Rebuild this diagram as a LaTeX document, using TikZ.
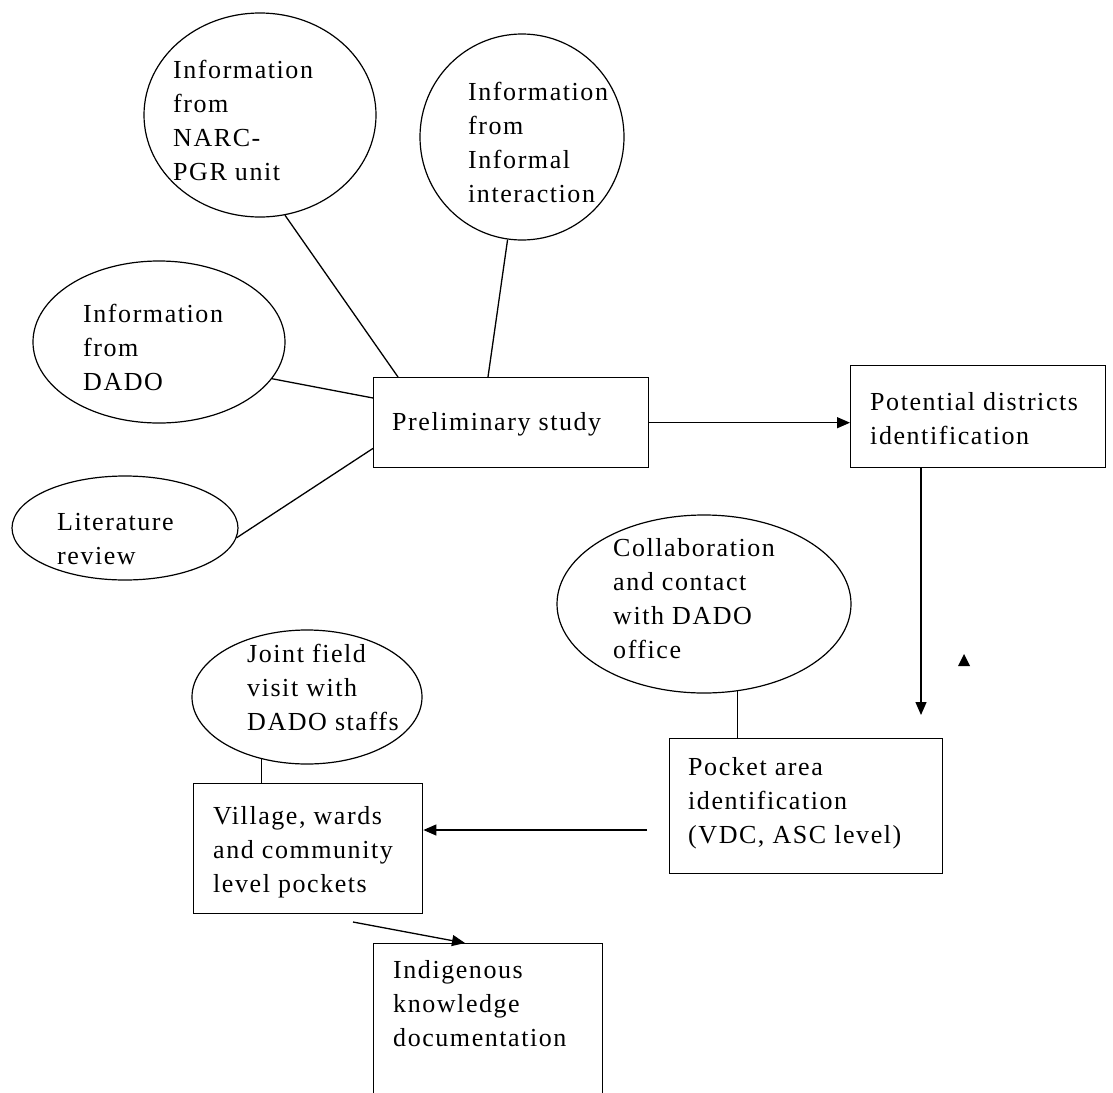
\documentclass[tikz,border=0pt]{standalone}
\usepackage{fontspec}
\setmainfont{Liberation Serif}[LetterSpace=6]
\usetikzlibrary{arrows.meta,shapes.geometric}
\newcommand\mylines[1]{\begin{tabular}[t]{@{}l@{}}#1\end{tabular}}
\begin{document}
\begin{tikzpicture}[x=1pt,y=-1pt,
  font=\fontsize{26}{34}\selectfont,
  ell/.style={draw, ellipse, inner sep=0pt, line width=1.2pt},
  box/.style={draw, rectangle, inner sep=0pt, line width=1.4pt, anchor=north west},
  txt/.style={anchor=base west, inner sep=0pt},
  link/.style={line width=1.3pt},
  arr/.style={link, -{Triangle[length=13pt,width=11pt]}}]
\useasboundingbox (0,0) rectangle (1113,1092);
\clip (0,0) rectangle (1113,1092);
\fill[white] (0,0) rectangle (1113,1092);

% ellipses
\node[ell, minimum width=232pt, minimum height=204pt] (narc) at (260,115) {};
\node[ell, minimum width=204pt, minimum height=206pt] (inf) at (522,137) {};
\node[ell, minimum width=252pt, minimum height=162pt] (dado) at (159,342) {};
\node[ell, minimum width=226pt, minimum height=104pt] (lit) at (125,528) {};
\node[ell, minimum width=294pt, minimum height=178pt] (collab) at (704,604) {};
\node[ell, minimum width=230pt, minimum height=134pt] (joint) at (307,697) {};

% boxes
\node[box, minimum width=275pt, minimum height=90pt] (prelim) at (373,377) {};
\node[box, minimum width=255pt, minimum height=102pt] (pot) at (850,365) {};
\node[box, minimum width=273pt, minimum height=135pt] (pocket) at (669,738) {};
\node[box, minimum width=229pt, minimum height=130pt] (village) at (193,783) {};
\node[box, minimum width=229pt, minimum height=200pt] (indig) at (373,943) {};

% texts
\node[txt] (tnarc) at (173,78) {\mylines{Information\\from\\NARC-\\PGR unit}};
\node[txt] (tinf) at (468,100) {\mylines{Information\\from\\Informal\\interaction}};
\node[txt] (tdado) at (83,322) {\mylines{Information\\from\\DADO}};
\node[txt] (tlit) at (57,530) {\mylines{Literature\\review}};
\node[txt] (tprelim) at (392,430) {Preliminary study};
\node[txt] (tpot) at (870,410) {\mylines{Potential districts\\identification}};
\node[txt] (tcollab) at (613,556) {\mylines{Collaboration\\and contact\\with DADO\\office}};
\node[txt] (tjoint) at (247,662) {\mylines{Joint field\\visit with\\DADO staffs}};
\node[txt] (tvillage) at (213,824) {\mylines{Village, wards\\and community\\level pockets}};
\node[txt] (tpocket) at (688,775) {\mylines{Pocket area\\identification\\(VDC, ASC level)}};
\node[txt] (tindig) at (393,978) {\mylines{Indigenous\\knowledge\\documentation}};

% connectors
\draw[link] (narc.-76) -- ([xshift=25pt]prelim.north west);
\draw[link] (inf.-98) -- ([xshift=115pt]prelim.north west);
\draw[link] (dado.-18) -- ([yshift=-21pt]prelim.north west);
\draw[link] (lit.-5) -- ([yshift=20pt]prelim.south west);
\draw[arr] (prelim.east) -- (prelim.east -| pot.west);
\coordinate (pockettip) at (921,715);
\draw[arr] (pockettip |- pot.south) -- (pockettip);
\draw[link] (collab.-69) -- (collab.-69 |- pocket.north);
\coordinate (pvstart) at (647,830);
\draw[arr] (pvstart) -- (pvstart -| village.east);
\draw[link] (joint.-126) -- (joint.-126 |- village.north);
\coordinate (vistart) at (353,922);
\draw[arr] (vistart) -- ([xshift=92pt]indig.north west);
\fill (958,666) -- (970,666) -- (964,654) -- cycle;
\end{tikzpicture}
\end{document}
